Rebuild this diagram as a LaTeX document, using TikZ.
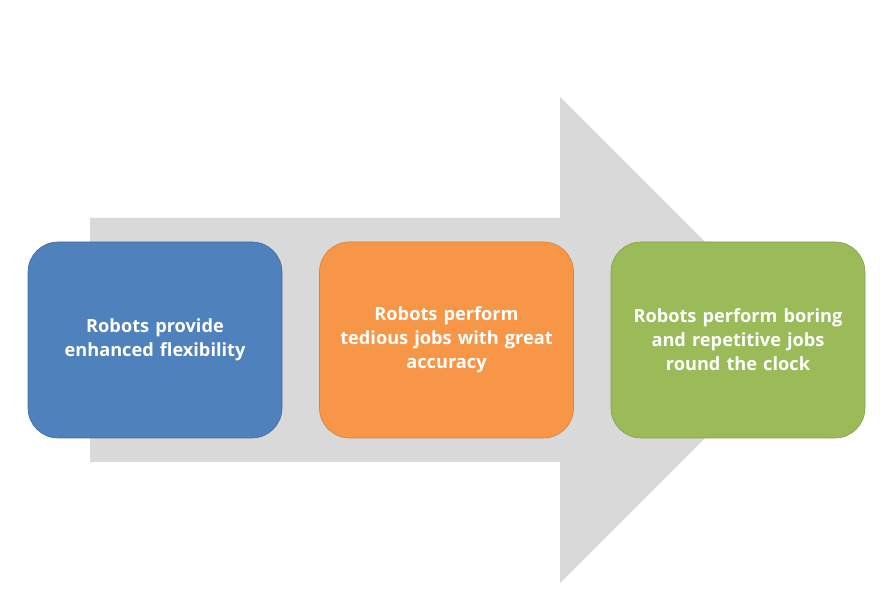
\documentclass[tikz,border=0pt]{standalone}
\usepackage{fontspec}
\setmainfont{Open Sans}
\usepackage{tikz}
\usetikzlibrary{positioning}
\definecolor{shaft}{HTML}{D9D9D9}
\definecolor{blu}{HTML}{4F81BD}
\definecolor{ora}{HTML}{F79646}
\definecolor{grn}{HTML}{9BBB59}

\begin{document}
\begin{tikzpicture}[x=1pt, y=-1pt,
  box/.style={rounded corners=30pt, minimum width=254pt, minimum height=196pt, text width=240pt,
    align=center, text=white, font=\fontsize{18.2}{24}\selectfont\bfseries, line width=0.6pt}]
\useasboundingbox (0,0) rectangle (892,593);
% big grey arrow behind the boxes
\fill[shaft] (90,218) -- (560,218) -- (560,97) -- (803,340) -- (560,583) -- (560,462) -- (90,462) -- cycle;
\foreach \i/\x/\col/\txt in {1/155/blu/{Robots provide\\enhanced flexibility},
  2/446.5/ora/{Robots perform\\tedious jobs with great\\accuracy},
  3/738/grn/{Robots perform boring\\and repetitive jobs\\round the clock}}{
  \node[box, fill=\col, draw=\col!85!black] (b\i) at (\x,340) {\txt};
}
\end{tikzpicture}
\end{document}
